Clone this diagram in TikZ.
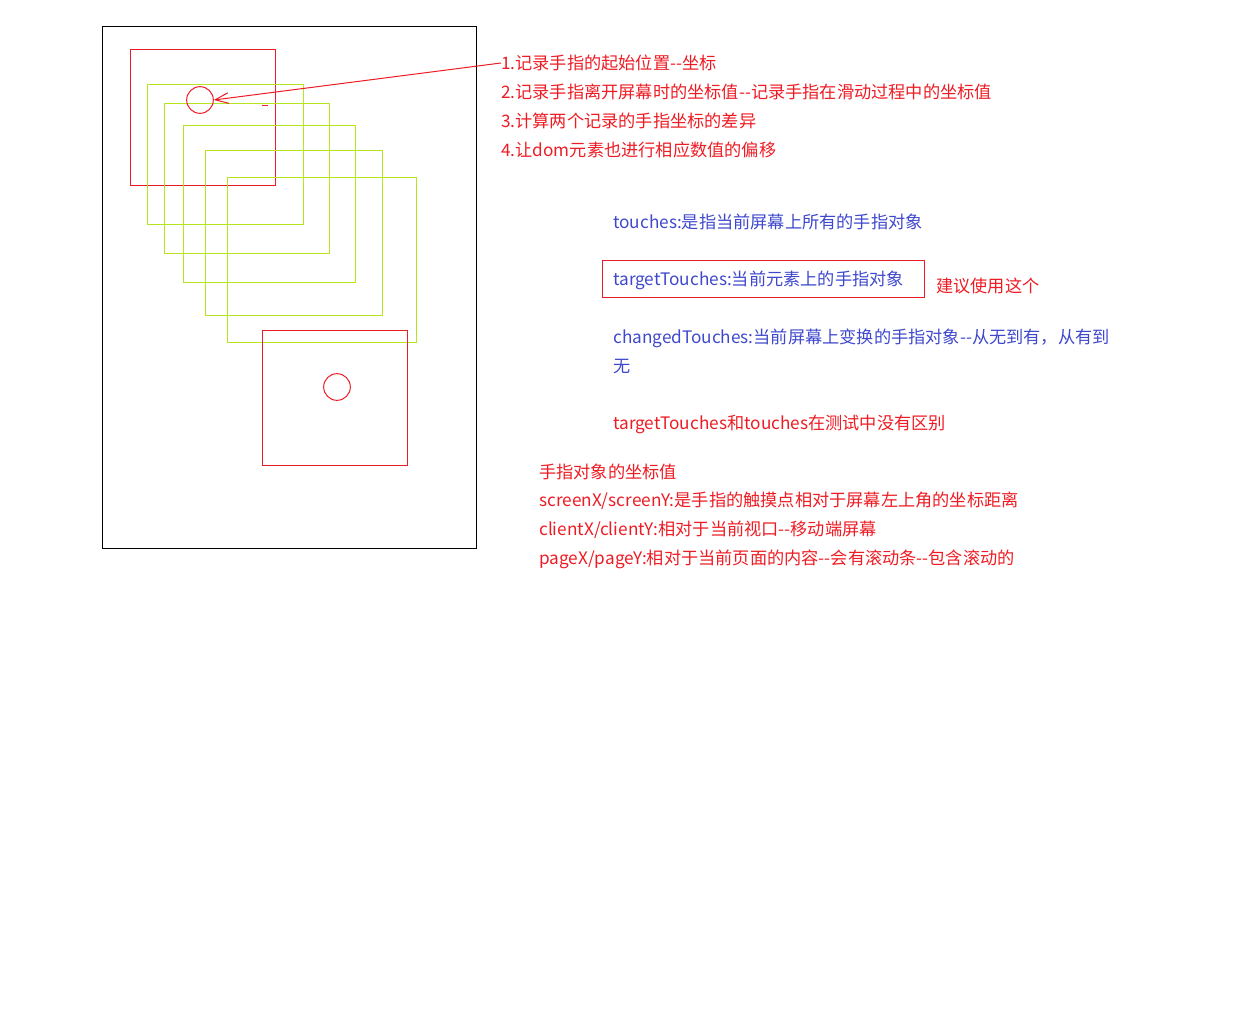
\documentclass[tikz,border=0pt]{standalone}
\usepackage{fontspec}
\newfontfamily\cjk{Noto Sans CJK SC}
\usetikzlibrary{arrows.meta}
\definecolor{paintred}{RGB}{237,28,36}
\definecolor{paintgreen}{RGB}{181,230,29}
\definecolor{paintblue}{RGB}{63,72,204}
\tikzset{
    redline/.style   = {draw=paintred, line width=0.75pt},
    greenline/.style = {draw=paintgreen, line width=0.75pt},
    frame/.style     = {draw=black, line width=0.75pt},
    note/.style      = {anchor=west, inner sep=0pt, yshift=-1.5pt,
            font=\cjk\fontsize{12.9}{15}\selectfont},
    rednote/.style   = {note, text=paintred},
    bluenote/.style  = {note, text=paintblue},
    finger/.style    = {circle, draw=paintred, line width=0.75pt,
            minimum size=20pt, inner sep=0pt},
    line/.style      = {-{Straight Barb[length=10pt,width=8pt]}, redline},
}

\begin{document}
\begin{tikzpicture}[x=0.75pt, y=-0.75pt]
    \useasboundingbox (0,0) rectangle (1233,1031);

    % phone screen
    \draw[frame] (102,27) rectangle (476,548);

    % element moving with the finger
    \draw[redline] (130,50) rectangle (275,185);
    \draw[greenline] (147,85) rectangle (303,224);
    \draw[greenline] (164,104) rectangle (329,253);
    \draw[greenline] (183,126) rectangle (355,282);
    \draw[greenline] (205,151) rectangle (382,315);
    \draw[greenline] (227,177) rectangle (416,342);
    \draw[redline] (262,330) rectangle (407,465);
    \draw[redline] (262,106) -- (268,106);

    % finger positions
    \node[finger] (finger1) at (200,100) {};
    \node[finger] (finger2) at (337,387) {};

    % steps
    \node[rednote] (step1) at (501,61) {1.记录手指的起始位置--坐标};
    \node[rednote] (step2) at (501,90) {2.记录手指离开屏幕时的坐标值--记录手指在滑动过程中的坐标值};
    \node[rednote] (step3) at (501,119) {3.计算两个记录的手指坐标的差异};
    \node[rednote] (step4) at (501,148) {4.让dom元素也进行相应数值的偏移};
    \draw[line] (step1.west) -- (finger1.east);

    % touch lists
    \node[bluenote] (touches) at (613,220) {touches:是指当前屏幕上所有的手指对象};
    \node[bluenote] (target) at (613,278) {targetTouches:当前元素上的手指对象};
    \draw[redline] (602,260) rectangle (924,297);
    \node[rednote] (advice) at (936,284) {建议使用这个};
    \node[bluenote] (changed) at (613,336) {changedTouches:当前屏幕上变换的手指对象--从无到有，从有到};
    \node[bluenote] (changed2) at (613,365) {无};
    \node[rednote] (same) at (613,422) {targetTouches和touches在测试中没有区别};

    % coordinates
    \node[rednote] (coords) at (539,470) {手指对象的坐标值};
    \node[rednote] (screen) at (539,499) {screenX/screenY:是手指的触摸点相对于屏幕左上角的坐标距离};
    \node[rednote] (client) at (539,528) {clientX/clientY:相对于当前视口--移动端屏幕};
    \node[rednote] (page) at (539,557) {pageX/pageY:相对于当前页面的内容--会有滚动条--包含滚动的};
\end{tikzpicture}
\end{document}
